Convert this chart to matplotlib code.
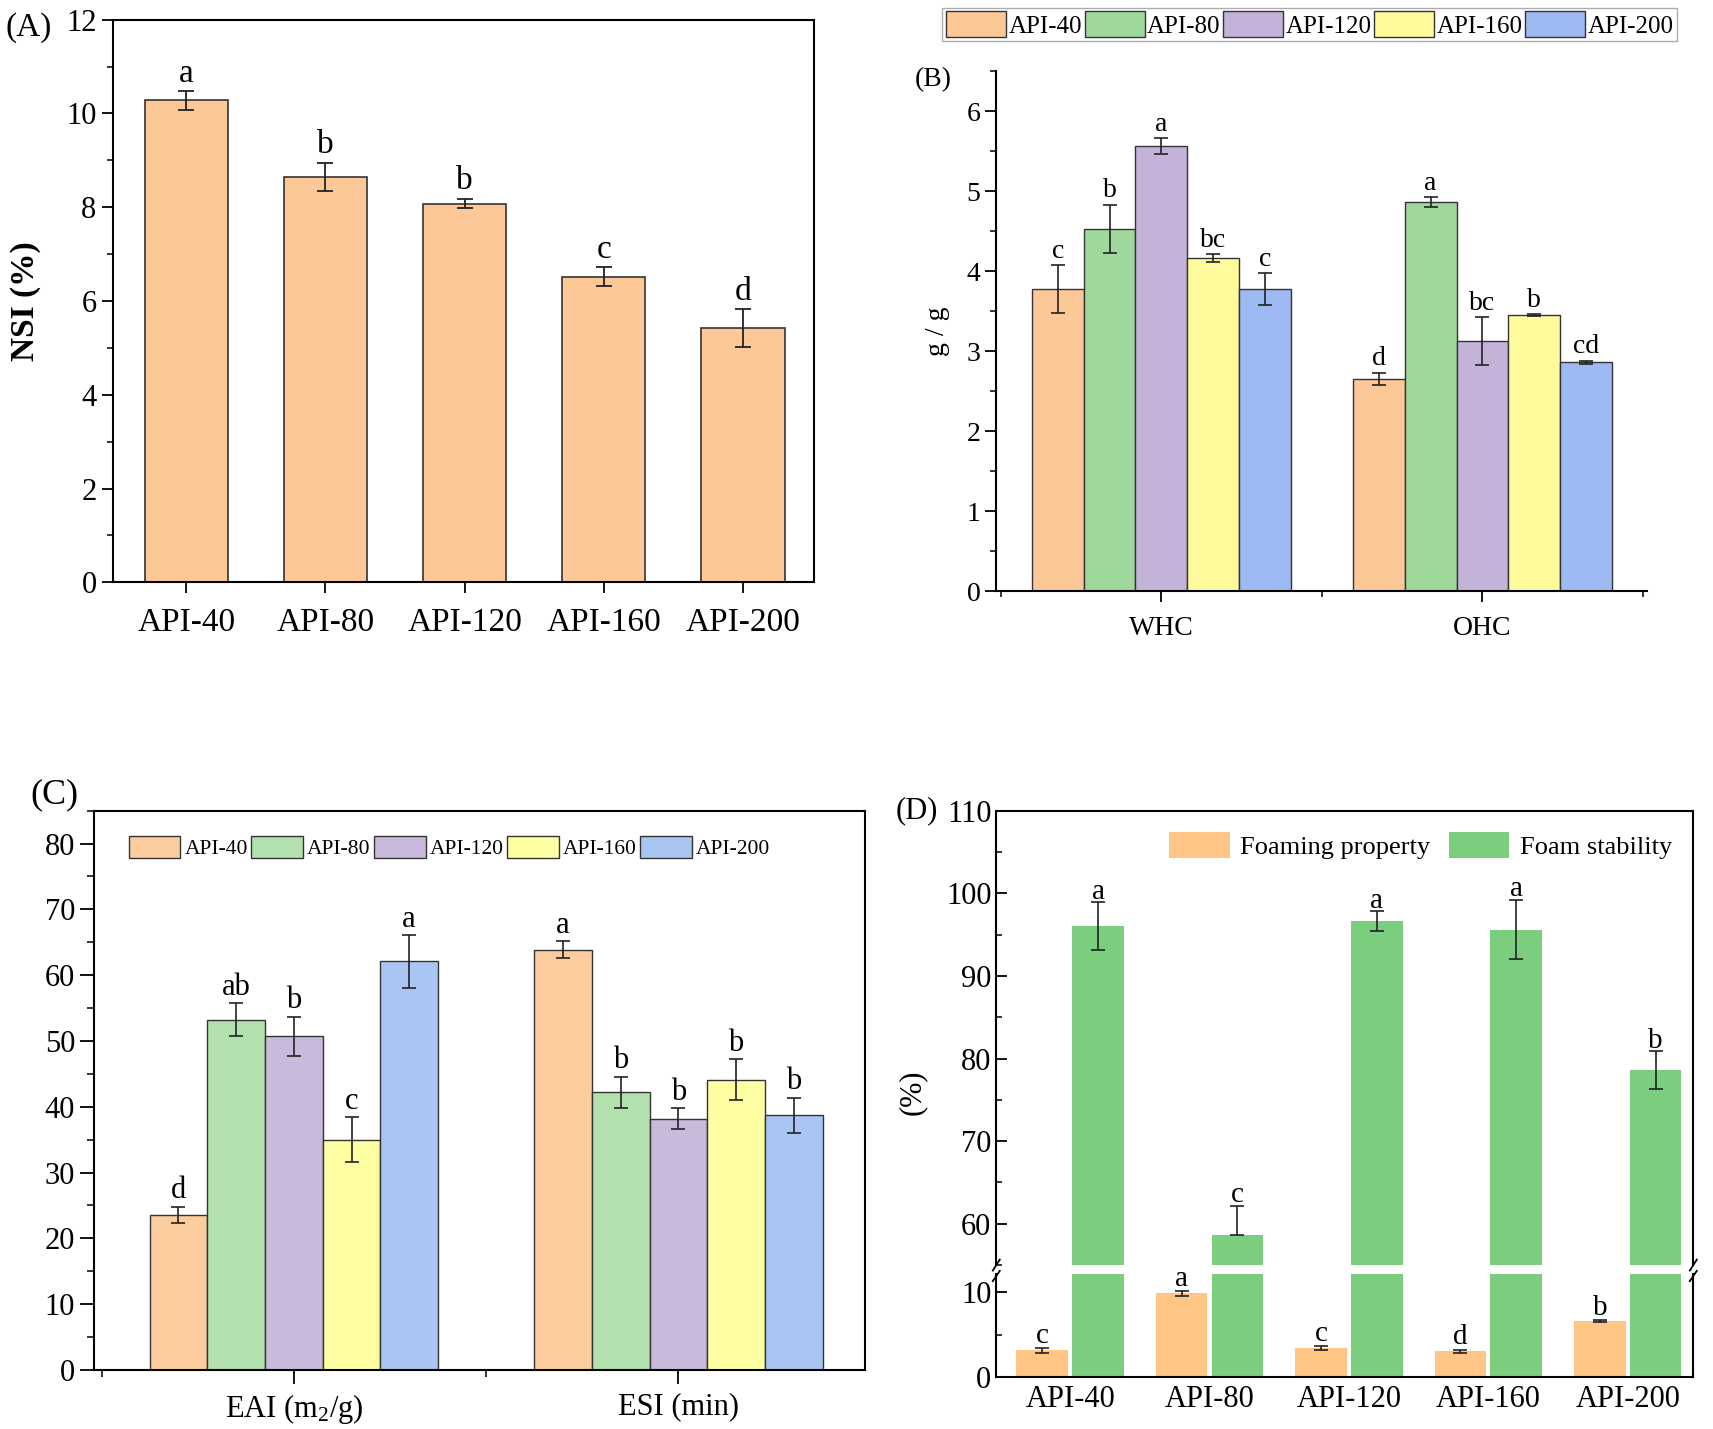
import numpy as np
import matplotlib
matplotlib.use('Agg')
import matplotlib.pyplot as plt
from matplotlib.ticker import MultipleLocator
from matplotlib.patches import Patch

plt.rcParams['font.family'] = ['Liberation Serif', 'DejaVu Serif']
plt.rcParams['mathtext.fontset'] = 'custom'
plt.rcParams['mathtext.rm'] = 'Liberation Serif'
plt.rcParams['mathtext.it'] = 'Liberation Serif:italic'

samples = ['API-40', 'API-80', 'API-120', 'API-160', 'API-200']

# (A) NSI
nsi = [10.28, 8.65, 8.08, 6.52, 5.42]
nsi_err = [0.2, 0.3, 0.1, 0.2, 0.4]
nsi_letters = ['a', 'b', 'b', 'c', 'd']

# (B) WHC / OHC
b_groups = ['WHC', 'OHC']
whc = [3.77, 4.53, 5.56, 4.16, 3.77]
whc_err = [0.3, 0.3, 0.1, 0.05, 0.2]
whc_letters = ['c', 'b', 'a', 'bc', 'c']
ohc = [2.65, 4.86, 3.12, 3.45, 2.86]
ohc_err = [0.08, 0.06, 0.3, 0.01, 0.02]
ohc_letters = ['d', 'a', 'bc', 'b', 'cd']

# (C) EAI / ESI
c_groups = ['EAI (m$_{2}$/g)', 'ESI (min)']
eai = [23.6, 53.2, 50.7, 35.0, 62.1]
eai_err = [1.2, 2.5, 3.0, 3.4, 4.0]
eai_letters = ['d', 'ab', 'b', 'c', 'a']
esi = [63.9, 42.2, 38.2, 44.1, 38.7]
esi_err = [1.3, 2.4, 1.6, 3.1, 2.7]
esi_letters = ['a', 'b', 'b', 'b', 'b']

# (D) foaming (stability error bars: lower, upper)
foam_prop = [3.1, 9.9, 3.4, 3.0, 6.6]
foam_prop_err = [0.3, 0.3, 0.2, 0.2, 0.1]
foam_prop_letters = ['c', 'a', 'c', 'd', 'b']
foam_stab = [96.0, 58.6, 96.6, 95.6, 78.6]
foam_stab_err_lo = [2.9, 0.0, 1.2, 3.6, 2.3]
foam_stab_err_hi = [2.9, 3.6, 1.2, 3.6, 2.3]
foam_stab_letters = ['a', 'c', 'a', 'a', 'b']

colors_b = ['#FDC898', '#9ED89A', '#C4B2D8', '#FFFB9D', '#9DBAF3']
colors_c = ['#FCCB9E', '#B3E1AE', '#C9B9DB', '#FFFEA3', '#A9C5F3']
edge = '#333333'

fig = plt.figure(figsize=(17.13, 14.29), dpi=100)


def style_ticks(ax, size, direction='out'):
    ax.tick_params(which='major', direction=direction, length=8, width=1.3, labelsize=size)
    ax.tick_params(which='minor', direction=direction, length=4, width=1.1)
    for s in ax.spines.values():
        s.set_linewidth(1.5)


# ---------- (A) ----------
axA = fig.add_axes([0.0657, 0.5925, 0.4094, 0.3937])
x = np.arange(len(samples))
axA.bar(x, nsi, width=0.6, color='#FDC898', edgecolor=edge, linewidth=1.2, zorder=2)
axA.errorbar(x, nsi, yerr=nsi_err, fmt='none', ecolor='#222222', elinewidth=1.3, capsize=6, capthick=1.3, zorder=3)
for xi, v, e, l in zip(x, nsi, nsi_err, nsi_letters):
    axA.text(xi, v + e + 0.05, l, ha='center', va='bottom', fontsize=24)
axA.set_xlim(-0.53, 4.51)
axA.set_ylim(0, 12)
axA.set_xticks(x)
axA.set_xticklabels(samples)
axA.yaxis.set_major_locator(MultipleLocator(2))
axA.yaxis.set_minor_locator(MultipleLocator(1))
style_ticks(axA, 22)
axA.tick_params(axis='x', labelsize=24, pad=10)
axA.set_ylabel('NSI (%)', fontsize=24, fontweight='bold', labelpad=18)
fig.text(0.003, 0.981, '(A)', fontsize=24, va='center', ha='left')

# ---------- (B) ----------
axB = fig.add_axes([0.5816, 0.5864, 0.3801, 0.3639])
gx = np.arange(len(b_groups))
bw = 0.161
for i in range(5):
    pos = gx + (i - 2) * bw
    vals = [whc[i], ohc[i]]
    errs = [whc_err[i], ohc_err[i]]
    axB.bar(pos, vals, width=bw, color=colors_b[i], edgecolor=edge, linewidth=1.0, zorder=2, label=samples[i])
    axB.errorbar(pos, vals, yerr=errs, fmt='none', ecolor='#222222', elinewidth=1.2, capsize=5, capthick=1.2, zorder=3)
    for p, v, e, l in zip(pos, vals, errs, [whc_letters[i], ohc_letters[i]]):
        axB.text(p, v + e + 0.02, l, ha='center', va='bottom', fontsize=20)
axB.set_xlim(-0.514, 1.514)
axB.set_ylim(0, 6.5)
axB.set_xticks(gx)
axB.set_xticklabels(b_groups)
axB.xaxis.set_minor_locator(MultipleLocator(0.5))
axB.yaxis.set_major_locator(MultipleLocator(1))
axB.yaxis.set_minor_locator(MultipleLocator(0.5))
axB.spines['top'].set_visible(False)
axB.spines['right'].set_visible(False)
style_ticks(axB, 20)
axB.tick_params(axis='x', pad=10)
axB.set_ylabel('g / g', fontsize=20, labelpad=12)
fig.text(0.534, 0.944, '(B)', fontsize=20, va='center', ha='left')
handles_b = [Patch(facecolor=c, edgecolor=edge, linewidth=1.0) for c in colors_b]
fig.legend(handles_b, samples, loc='center', bbox_to_anchor=(0.7646, 0.9828), ncol=5,
           fontsize=18, frameon=True, fancybox=False, edgecolor='#999999',
           handlelength=2.4, handleheight=1.2, handletextpad=0.1, columnspacing=0.1,
           borderpad=0.15, borderaxespad=0)

# ---------- (C) ----------
axC = fig.add_axes([0.0548, 0.0413, 0.4503, 0.3914])
cw = 0.15
for i in range(5):
    pos = gx + (i - 2) * cw
    vals = [eai[i], esi[i]]
    errs = [eai_err[i], esi_err[i]]
    axC.bar(pos, vals, width=cw, color=colors_c[i], edgecolor=edge, linewidth=1.0, zorder=2, label=samples[i])
    axC.errorbar(pos, vals, yerr=errs, fmt='none', ecolor='#222222', elinewidth=1.2, capsize=5, capthick=1.2, zorder=3)
    for p, v, e, l in zip(pos, vals, errs, [eai_letters[i], esi_letters[i]]):
        axC.text(p, v + e + 0.2, l, ha='center', va='bottom', fontsize=22)
axC.set_xlim(-0.52, 1.486)
axC.set_ylim(0, 85)
axC.set_xticks(gx)
axC.set_xticklabels(c_groups)
axC.xaxis.set_minor_locator(MultipleLocator(0.5))
axC.yaxis.set_major_locator(MultipleLocator(10))
axC.yaxis.set_minor_locator(MultipleLocator(5))
style_ticks(axC, 22)
axC.tick_params(which='major', length=10)
axC.tick_params(which='minor', length=5)
axC.tick_params(axis='x', pad=6)
axC.legend(loc='upper left', bbox_to_anchor=(0.02, 0.99), ncol=5, fontsize=15.5, frameon=False,
           handlelength=2.4, handleheight=1.2, handletextpad=0.2, columnspacing=0.15)
fig.text(0.018, 0.444, '(C)', fontsize=26, va='center', ha='left')

# ---------- (D) broken axis ----------
d_left, d_width = 0.5816, 0.4069
axU = fig.add_axes([d_left, 0.1147, d_width, 0.4327 - 0.1147])
axL = fig.add_axes([d_left, 0.0367, d_width, 0.1085 - 0.0367])
dx = np.arange(len(samples))
dw = 0.37
for ax in (axU, axL):
    ax.bar(dx - 0.2, foam_prop, width=dw, color='#FEC585', zorder=2, label='Foaming property')
    ax.bar(dx + 0.2, foam_stab, width=dw, color='#7BCE7E', zorder=2, label='Foam stability')
    ax.errorbar(dx - 0.2, foam_prop, yerr=foam_prop_err, fmt='none', ecolor='#222222', elinewidth=1.2,
                capsize=5, capthick=1.2, zorder=3)
    ax.errorbar(dx + 0.2, foam_stab, yerr=[foam_stab_err_lo, foam_stab_err_hi], fmt='none',
                ecolor='#222222', elinewidth=1.2, capsize=5, capthick=1.2, zorder=3)
    ax.set_xlim(-0.53, 4.47)
    style_ticks(ax, 22, direction='in')
    ax.yaxis.set_minor_locator(MultipleLocator(5))

for xi, v, e, l in zip(dx + 0.2, foam_stab, foam_stab_err_hi, foam_stab_letters):
    axU.text(xi, v + e - 0.3, l, ha='center', va='bottom', fontsize=21)
for xi, v, e, l in zip(dx - 0.2, foam_prop, foam_prop_err, foam_prop_letters):
    axL.text(xi, v + e - 0.1, l, ha='center', va='bottom', fontsize=21)

axU.set_ylim(55, 110)
axU.set_yticks([60, 70, 80, 90, 100, 110])
axU.spines['bottom'].set_visible(False)
axU.tick_params(axis='x', bottom=False, labelbottom=False)
axL.set_ylim(0, 12.2)
axL.set_yticks([0, 10])
axL.spines['top'].set_visible(False)
axL.set_xticks(dx)
axL.set_xticklabels(samples)
axL.tick_params(axis='x', length=0, pad=6)
axU.set_ylabel('(%)', fontsize=22, labelpad=12)
axU.yaxis.set_label_coords(-0.1, 0.38)
axU.legend(loc='upper right', ncol=2, fontsize=19, frameon=False, handlelength=2.3, handleheight=1.15,
           handletextpad=0.4, columnspacing=0.7, borderaxespad=0.4)
fig.text(0.523, 0.433, '(D)', fontsize=22, va='center', ha='left')

# break marks
for xa in (0, 1):
    axU.plot([xa - 0.005, xa + 0.005], [-0.012, 0.012], transform=axU.transAxes,
             color='k', lw=1.3, clip_on=False)
    axL.plot([xa - 0.005, xa + 0.005], [0.93, 1.03], transform=axL.transAxes,
             color='k', lw=1.3, clip_on=False)

fig.savefig('out.png', dpi=100)
